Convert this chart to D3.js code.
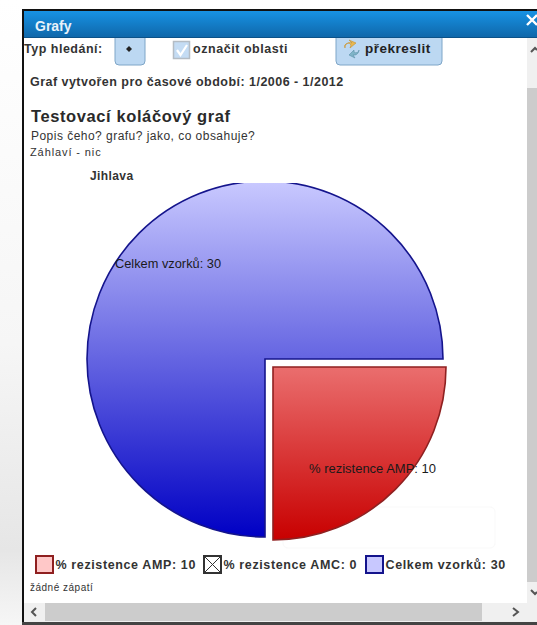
<!DOCTYPE html>
<html>
<head>
<meta charset="utf-8">
<script src="https://cdn.jsdelivr.net/npm/d3@7/dist/d3.min.js"></script>
<style>
html, body { margin: 0; padding: 0; background: #fff; overflow: hidden; }
text { font-family: "Liberation Sans", Arial, sans-serif; }
</style>
</head>
<body>
<div id="chart-area"></div>
<script>
var categories = ["% rezistence AMP", "% rezistence AMC", "Celkem vzorků"];
var values = [10, 0, 30];
var fillTop = ["#ea6e6e", "#ffffff", "#c9c9ff"];
var fillBottom = ["#c80000", "#ffffff", "#0000c4"];
var strokes = ["#8f2020", "#333333", "#14148c"];
var swatches = ["#ffc8c8", "#ffffff", "#c8c8ff"];

var width = 537;
var height = 625;

var svg = d3.select("#chart-area")
    .append("svg")
    .attr("width", width)
    .attr("height", height)
    .style("display", "block");

var defs = svg.append("defs");

var bgGrad = defs.append("linearGradient").attr("id", "bg")
    .attr("x1", 0).attr("y1", 0).attr("x2", 0).attr("y2", 1);
bgGrad.append("stop").attr("offset", "0%").attr("stop-color", "#ffffff");
bgGrad.append("stop").attr("offset", "55%").attr("stop-color", "#f6f6f6");
bgGrad.append("stop").attr("offset", "88%").attr("stop-color", "#e6e6e6");
bgGrad.append("stop").attr("offset", "100%").attr("stop-color", "#f6f6f6");

var titleGrad = defs.append("linearGradient").attr("id", "titlebar")
    .attr("x1", 0).attr("y1", 0).attr("x2", 0).attr("y2", 1);
titleGrad.append("stop").attr("offset", "0%").attr("stop-color", "#1792e4");
titleGrad.append("stop").attr("offset", "100%").attr("stop-color", "#0f66a8");

categories.forEach(function(c, i) {
    var lg = defs.append("linearGradient").attr("id", "slice" + i)
        .attr("x1", 0).attr("y1", 0).attr("x2", 0).attr("y2", 1);
    lg.append("stop").attr("offset", "0%").attr("stop-color", fillTop[i]);
    lg.append("stop").attr("offset", "100%").attr("stop-color", fillBottom[i]);
});

defs.append("clipPath").attr("id", "plot-clip")
    .append("rect")
    .attr("x", 24).attr("y", 183).attr("width", 503).attr("height", 400);

function label(x, y, size, weight, spacing, txt) {
    return svg.append("text").attr("x", x).attr("y", y)
        .attr("font-size", size + "px")
        .attr("font-weight", weight)
        .attr("letter-spacing", spacing)
        .attr("fill", "#333333")
        .text(txt);
}

// page behind the dialog
svg.append("rect").attr("width", width).attr("height", height).attr("fill", "url(#bg)");
svg.append("rect").attr("x", 22).attr("y", 9).attr("width", 515).attr("height", 616).attr("fill", "#111111");
svg.append("rect").attr("x", 24).attr("y", 11).attr("width", 513).attr("height", 611).attr("fill", "#ffffff");

// toolbar buttons sit partly under the title bar
[[115, 30], [336, 106]].forEach(function(b) {
    svg.append("rect").attr("x", b[0]).attr("y", 30).attr("width", b[1]).attr("height", 35).attr("rx", 4)
        .attr("fill", "#bcd8f2").attr("stroke", "#7fa6c8");
});

// title bar
svg.append("rect").attr("x", 24).attr("y", 11).attr("width", 513).attr("height", 27).attr("fill", "url(#titlebar)");
svg.append("rect").attr("x", 24).attr("y", 37).attr("width", 513).attr("height", 1).attr("fill", "#0c5288");
label(35, 31, 14, "bold", 0, "Grafy").attr("fill", "#e8f2fa");
svg.append("path").attr("d", "M 527 15 L 537 25 M 537 15 L 527 25")
    .attr("stroke", "#ffffff").attr("stroke-width", 2.4);

// toolbar
label(24, 53, 12.5, "bold", 0.5, "Typ hledání:");
svg.append("path").attr("d", "M 129 46 L 132 49 L 129 52 L 126 49 Z").attr("fill", "#222");
svg.append("rect").attr("x", 173.5).attr("y", 41.5).attr("width", 16).attr("height", 17)
    .attr("fill", "#c4dcf4").attr("stroke", "#b4bcc4").attr("stroke-width", 1.5);
svg.append("path").attr("d", "M 177 50 L 180.5 55 L 187 45").attr("fill", "none")
    .attr("stroke", "#ffffff").attr("stroke-width", 2.2);
label(193, 53, 12.5, "bold", 0.55, "označit oblasti");
svg.append("path").attr("d", "M 345 48 A 5 5 0 0 1 352 43 L 349 40 L 356 43 L 350 48 L 351 45 A 3 3 0 0 0 345 48 Z")
    .attr("fill", "#e8b850").attr("stroke", "#c49030").attr("stroke-width", 0.6);
svg.append("path").attr("d", "M 359 50 A 5 5 0 0 1 353 55 L 355 58 L 349 55 L 354 50 L 354 52 A 3 3 0 0 0 359 50 Z")
    .attr("fill", "#7fb4c8").attr("stroke", "#5a90a8").attr("stroke-width", 0.6);
label(365, 53, 13.5, "bold", 0.5, "překreslit").attr("fill", "#222222");

// headings
label(30, 86, 12.5, "bold", 0.47, "Graf vytvořen pro časové období: 1/2006 - 1/2012");
label(31, 122, 16.5, "bold", 0.6, "Testovací koláčový graf").attr("fill", "#2a2a2a");
label(31, 140, 12, "normal", 0.47, "Popis čeho? grafu? jako, co obsahuje?");
label(30, 156, 11, "normal", 0.9, "Záhlaví - nic");
label(90, 180, 12, "bold", 0.4, "Jihlava");

// faint copy of the slice label left behind by the tooltip
svg.append("rect").attr("x", 283).attr("y", 507).attr("width", 212).attr("height", 41).attr("rx", 5)
    .attr("fill", "none").attr("stroke", "#f9f9f9");

// pie
var pie = d3.pie().sort(null).value(function(d) { return d; })
    .startAngle(Math.PI / 2).endAngle(Math.PI * 2.5);
var radius = [173, 0, 178];
var offset = [[273, 367], [265, 359], [265, 359]];
var arcs = pie(values);

var pieGroup = svg.append("g").attr("clip-path", "url(#plot-clip)");
pieGroup.selectAll("path")
    .data(arcs)
    .enter().append("path")
    .attr("transform", function(d, i) { return "translate(" + offset[i] + ")"; })
    .attr("d", function(d, i) { return d3.arc().innerRadius(0).outerRadius(radius[i])(d); })
    .attr("fill", function(d, i) { return "url(#slice" + i + ")"; })
    .attr("stroke", function(d, i) { return strokes[i]; })
    .attr("stroke-width", function(d) { return d.value > 0 ? 1.6 : 0; });

svg.append("text").attr("x", 295).attr("y", 535).attr("font-size", "18px").attr("font-family", "DejaVu Sans")
    .attr("textLength", 188).attr("lengthAdjust", "spacingAndGlyphs")
    .attr("fill", "#000000").attr("fill-opacity", 0.025)
    .text(categories[0] + ": " + values[0]);

// pie labels
var labelPos = [[309, 473], null, [115, 268]];
categories.forEach(function(c, i) {
    if (!labelPos[i]) return;
    svg.append("text").attr("x", labelPos[i][0]).attr("y", labelPos[i][1])
        .attr("font-size", "12px").attr("font-family", "DejaVu Sans")
        .attr("textLength", i == 0 ? 127 : 106)
        .attr("lengthAdjust", "spacingAndGlyphs")
        .attr("fill", "#1a1a1a").text(c + ": " + values[i]);
});

// legend
var legendX = [35, 203, 365];
var legend = svg.append("g").selectAll("g")
    .data(categories)
    .enter().append("g")
    .attr("transform", function(d, i) { return "translate(" + legendX[i] + ",555)"; });
legend.append("rect")
    .attr("x", 1).attr("y", 1).attr("width", 17).attr("height", 17)
    .attr("fill", function(d, i) { return swatches[i]; })
    .attr("stroke", function(d, i) { return strokes[i]; })
    .attr("stroke-width", 2);
legend.filter(function(d, i) { return values[i] == 0; }).append("path")
    .attr("d", "M 1 1 L 18 18 M 18 1 L 1 18")
    .attr("stroke", "#333").attr("fill", "none");
legend.append("text")
    .attr("x", 20.5).attr("y", 14).attr("font-size", "12.5px").attr("font-weight", "bold")
    .attr("letter-spacing", 0.62)
    .attr("fill", "#333")
    .text(function(d, i) { return d + ": " + values[i]; });

label(30, 591, 10, "normal", 0.5, "žádné zápatí");

// scrollbars
svg.append("rect").attr("x", 527).attr("y", 38).attr("width", 10).attr("height", 584).attr("fill", "#f0f0f0");
svg.append("rect").attr("x", 527).attr("y", 88).attr("width", 10).attr("height", 494).attr("fill", "#cccccc");
svg.append("rect").attr("x", 24).attr("y", 603).attr("width", 513).attr("height", 19).attr("fill", "#f0f0f0");
svg.append("rect").attr("x", 45).attr("y", 603).attr("width", 437).attr("height", 18).attr("fill", "#cccccc");
svg.append("path").attr("d", "M 36 608 L 32 612 L 36 616").attr("fill", "none").attr("stroke", "#555").attr("stroke-width", 2);
svg.append("path").attr("d", "M 513 608 L 518 612 L 513 616").attr("fill", "none").attr("stroke", "#555").attr("stroke-width", 2);
svg.append("path").attr("d", "M 531 52 L 535 48 L 537 50").attr("fill", "none").attr("stroke", "#555").attr("stroke-width", 2);
svg.append("path").attr("d", "M 531 590 L 535 594 L 537 592").attr("fill", "none").attr("stroke", "#555").attr("stroke-width", 2);
svg.append("rect").attr("x", 22).attr("y", 622).attr("width", 515).attr("height", 3).attr("fill", "#444");
</script>
</body>
</html>
